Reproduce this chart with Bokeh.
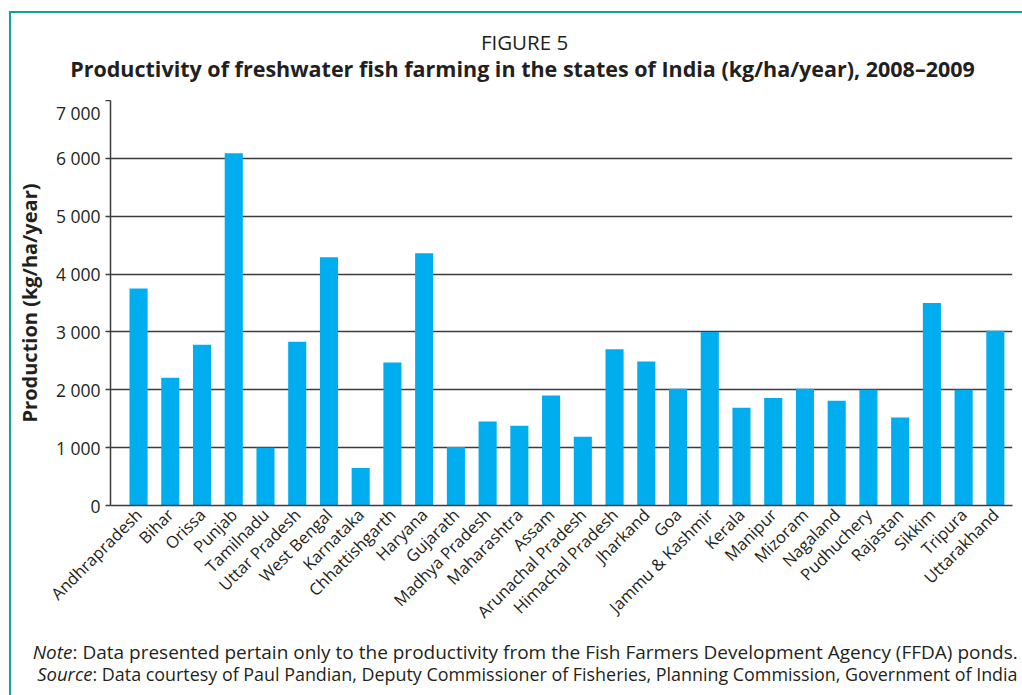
import math
from bokeh.plotting import figure
from bokeh.models import FixedTicker, Label, Range1d
from bokeh.embed import file_html
from bokeh.resources import INLINE

states = ["Andhrapradesh", "Bihar", "Orissa", "Punjab", "Tamilnadu", "Uttar Pradesh",
          "West Bengal", "Karnataka", "Chhattishgarth", "Haryana", "Gujarath",
          "Madhya Pradesh", "Maharashtra", "Assam", "Arunachal Pradesh",
          "Himachal Pradesh", "Jharkand", "Goa", "Jammu & Kashmir", "Kerala",
          "Manipur", "Mizoram", "Nagaland", "Pudhuchery", "Rajastan", "Sikkim",
          "Tripura", "Uttarakhand"]
productivity = [3750, 2210, 2780, 6090, 1000, 2830, 4290, 650, 2470, 4360, 1010,
                1450, 1380, 1900, 1190, 2700, 2490, 2020, 3000, 1690, 1860, 2020,
                1810, 2000, 1520, 3500, 2000, 3020]
y_ticks = [0, 1000, 2000, 3000, 4000, 5000, 6000, 7000]
y_tick_labels = ["0", "1 000", "2 000", "3 000", "4 000", "5 000", "6 000", "7 000"]

FONT = "Open Sans"
TEAL = "#14a19c"
TXT = "#231f20"
BORDER = f"2px solid {TEAL}"
BW = 2                      # border width (drawn inside each root's box)

MX = 9                      # left page margin before the teal line
OX = MX + BW                # page x of content origin (11)
W = 1022 - MX               # root width including its border
TOP_BOTTOM = 100            # page y where header ends / plot frame starts
MAIN_BOTTOM = 635           # page y where chart strip ends
PAGE_H = 695


def strip(h):
    f = figure(width=W, height=h, output_backend="svg", toolbar_location=None,
               x_range=Range1d(0, 1), y_range=Range1d(0, 1),
               x_axis_type=None, y_axis_type=None, min_border=0)
    f.outline_line_color = None
    f.grid.grid_line_color = None
    f.border_fill_color = "white"
    return f


def lab(f, bottom, text, x, y, size, style="normal", align="left"):
    f.add_layout(Label(x=x - OX, y=bottom - y, x_units="screen", y_units="screen",
                       text=text, text_font=FONT, text_font_size=size,
                       text_font_style=style, text_color=TXT,
                       text_align=align, text_baseline="middle"))


# header (page y 11..100, border included)
top = strip(TOP_BOTTOM - 11)
lab(top, TOP_BOTTOM, "FIGURE 5", 524, 39, "20.5px", align="center")
lab(top, TOP_BOTTOM,
    "Productivity of freshwater fish farming in the states of India (kg/ha/year), 2008\u20132009",
    522, 66, "21.5px", style="bold", align="center")
top.margin = (11, 0, 0, MX)
top.styles = {"border-left": BORDER, "border-top": BORDER}

# main chart
MAIN_H = MAIN_BOTTOM - TOP_BOTTOM
p = figure(width=W, height=MAIN_H, output_backend="svg", toolbar_location=None,
           x_range=Range1d(-0.884, 27.54), y_range=Range1d(0, 7000),
           min_border_left=110 - OX, min_border_right=12, min_border_top=0,
           min_border_bottom=MAIN_H - 405)
p.outline_line_color = None
p.background_fill_color = "white"
p.border_fill_color = "white"
p.margin = (0, 0, 0, MX)
p.styles = {"border-left": BORDER}

idx = list(range(len(states)))
p.vbar(x=idx, top=productivity, width=0.57, color="#00aeef", line_color=None)

p.xgrid.grid_line_color = None
p.ygrid.ticker = FixedTicker(ticks=y_ticks)
p.ygrid.grid_line_color = "#3c3c3c"
p.ygrid.grid_line_width = 1.5

xa = p.xaxis[0]
xa.ticker = FixedTicker(ticks=idx)
xa.major_label_overrides = {i: s for i, s in enumerate(states)}
xa.major_label_orientation = math.pi / 4
xa.major_tick_out = 0
xa.major_tick_in = 0
xa.minor_tick_line_color = None
xa.axis_line_color = "#3c3c3c"
xa.axis_line_width = 1.5
xa.major_label_text_font = FONT
xa.major_label_text_font_size = "16.5px"
xa.major_label_text_color = TXT
xa.major_label_standoff = 6

ya = p.yaxis[0]
ya.ticker = FixedTicker(ticks=y_ticks)
ya.major_label_overrides = {t: l for t, l in zip(y_ticks, y_tick_labels)}
ya.major_tick_out = 5
ya.major_tick_in = 0
ya.major_tick_line_color = "#3c3c3c"
ya.major_tick_line_width = 1.5
ya.minor_tick_line_color = None
ya.axis_line_color = "#3c3c3c"
ya.axis_line_width = 1.5
ya.major_label_text_font = FONT
ya.major_label_text_font_size = "17.5px"
ya.major_label_text_color = TXT
ya.major_label_standoff = 5
ya.axis_label = "Production (kg/ha/year)"
ya.axis_label_text_font = FONT
ya.axis_label_text_font_size = "20px"
ya.axis_label_text_font_style = "bold"
ya.axis_label_text_color = TXT
ya.axis_label_standoff = 10

# footnotes
bot = strip(PAGE_H - MAIN_BOTTOM)
lab(bot, PAGE_H, "Note", 72, 651, "19px", style="italic", align="right")
lab(bot, PAGE_H,
    ": Data presented pertain only to the productivity from the Fish Farmers Development Agency (FFDA) ponds.",
    72, 651, "19px")
lab(bot, PAGE_H, "Source", 92, 673, "18.5px", style="italic", align="right")
lab(bot, PAGE_H,
    ": Data courtesy of Paul Pandian, Deputy Commissioner of Fisheries, Planning Commission, Government of India",
    92, 673, "17.9px")
bot.margin = (0, 0, 0, MX)
bot.styles = {"border-left": BORDER}

open("out.html", "w").write(file_html([top, p, bot], INLINE))
